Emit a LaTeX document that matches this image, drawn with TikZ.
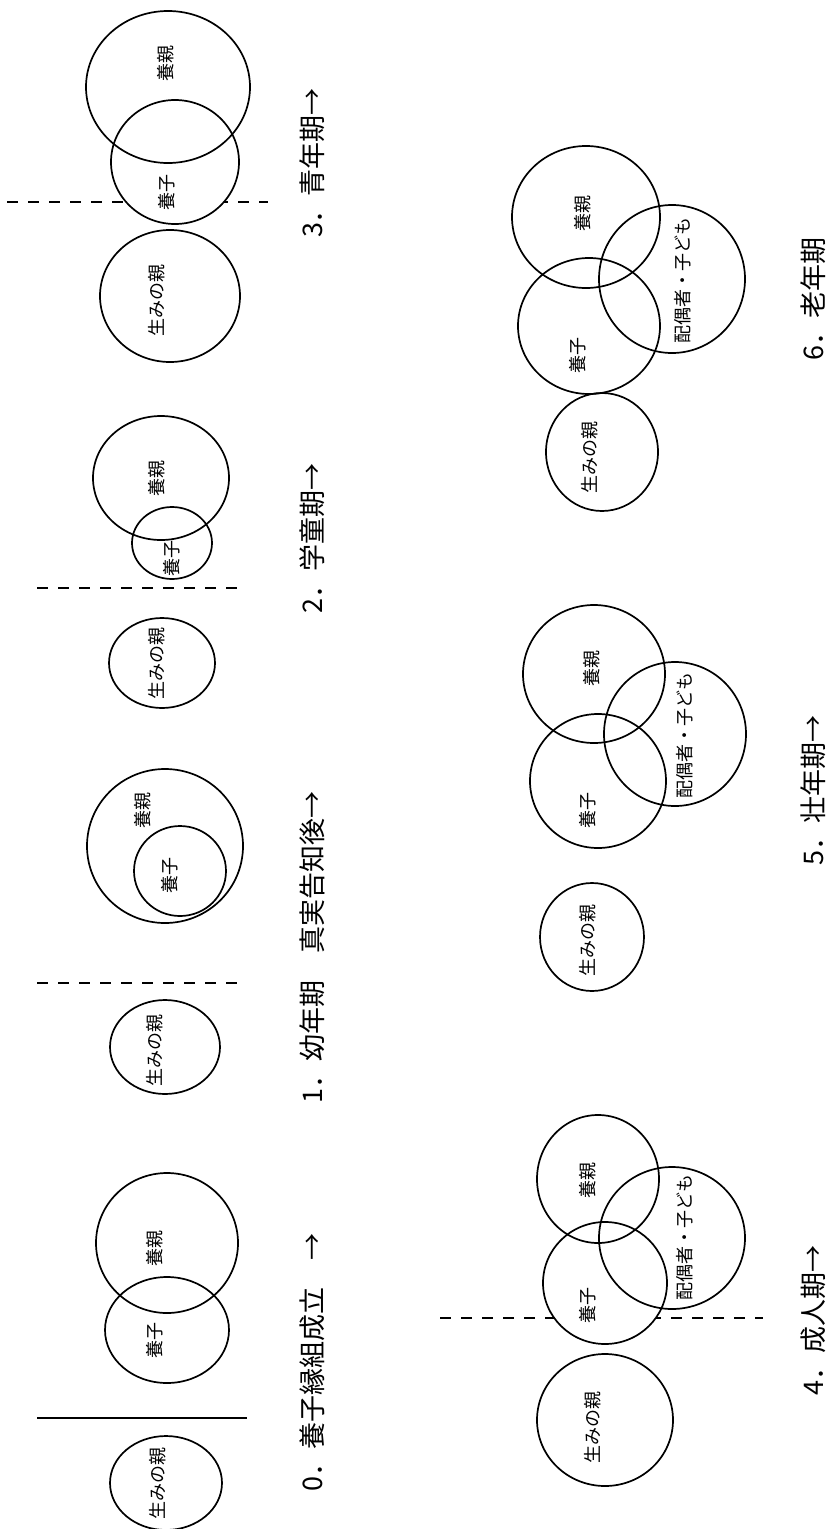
\documentclass[tikz,border=0pt]{standalone}
\usepackage{fontspec}
\setmainfont{Noto Sans CJK JP}
\usetikzlibrary{shapes.geometric}

\begin{document}
\begin{tikzpicture}[
        x=1pt, y=-1pt,
        % circles of the people around the adoptee
        ring/.style={
            ellipse,
            draw=black,
            line width=1.7pt,
            inner sep=0pt
        },
        tag/.style={
            rotate=90,
            inner sep=0pt,
            font=\fontsize{18}{21}\selectfont
        },
        stagelabel/.style={
            rotate=90,
            inner sep=0pt,
            font=\fontsize{27}{30}\selectfont
        },
        divider/.style={
            line width=1.7pt,
            dash pattern=on 11pt off 10pt
        }
    ]
    \useasboundingbox (0,0) rectangle (825,1529);

    % Dividing lines
    \draw [line width=1.7pt] (37,1418) -- (247,1418);
    \draw [divider] (37,983) -- (247,983);
    \draw [divider] (37,588) -- (247,588);
    \draw [divider] (7,202) -- (268,202);
    \draw [divider] (440,1318) -- (763,1318);

    % 0. adoption
    \node (child0) [ring, minimum width=124pt, minimum height=106pt] at (167,1330) {};
    \node (parent0) [ring, minimum width=142pt, minimum height=140pt] at (167,1243) {};
    \node (birth0) [ring, minimum width=112pt, minimum height=94pt] at (166,1483) {};
    \node (tparent0) [tag] at (155,1248) {養親};
    \node (tchild0) [tag] at (155,1340) {養子};
    \node (tbirth0) [tag] at (158,1483) {生みの親};
    \node (label0) [stagelabel] at (312,1362) {0．養子縁組成立　→};

    % 1. early childhood
    \node (parent1) [ring, minimum width=156pt, minimum height=154pt] at (165,846) {};
    \node (child1) [ring, minimum width=92pt, minimum height=90pt] at (180,871) {};
    \node (birth1) [ring, minimum width=110pt, minimum height=94pt] at (165,1047) {};
    \node (tparent1) [tag] at (143,810) {養親};
    \node (tchild1) [tag] at (170,875) {養子};
    \node (tbirth1) [tag] at (155,1050) {生みの親};
    \node (label1) [stagelabel] at (312,947) {1．幼年期　真実告知後→};

    % 2. school age
    \node (parent2) [ring, minimum width=136pt, minimum height=124pt] at (161,478) {};
    \node (child2) [ring, minimum width=80pt, minimum height=72pt] at (172,543) {};
    \node (birth2) [ring, minimum width=106pt, minimum height=90pt] at (162,663) {};
    \node (tparent2) [tag] at (157,478) {養親};
    \node (tchild2) [tag] at (172,558) {養子};
    \node (tbirth2) [tag] at (157,663) {生みの親};
    \node (label2) [stagelabel] at (312,538) {2．学童期→};

    % 3. adolescence
    \node (child3) [ring, fill=white, minimum width=128pt, minimum height=124pt] at (175,162) {};
    \node (parent3) [ring, minimum width=164pt, minimum height=152pt] at (168,87) {};
    \node (birth3) [ring, minimum width=140pt, minimum height=132pt] at (170,296) {};
    \node (tparent3) [tag] at (166,63) {養親};
    \node (tchild3) [tag] at (167,192) {養子};
    \node (tbirth3) [tag] at (157,300) {生みの親};
    \node (label3) [stagelabel] at (312,163) {3．青年期→};

    % 4. adulthood
    \node (child4) [ring, fill=white, minimum width=124pt, minimum height=122pt] at (605,1283) {};
    \node (parent4) [ring, minimum width=122pt, minimum height=128pt] at (598,1179) {};
    \node (spouse4) [ring, minimum width=146pt, minimum height=142pt] at (672,1238) {};
    \node (birth4) [ring, minimum width=136pt, minimum height=132pt] at (605,1420) {};
    \node (tparent4) [tag] at (588,1180) {養親};
    \node (tspouse4) [tag] at (685,1237) {配偶者・子ども};
    \node (tchild4) [tag] at (588,1305) {養子};
    \node (tbirth4) [tag] at (593,1427) {生みの親};
    \node (label4) [stagelabel] at (813,1320) {4．成人期→};

    % 5. middle age
    \node (parent5) [ring, minimum width=142pt, minimum height=138pt] at (594,674) {};
    \node (spouse5) [ring, minimum width=142pt, minimum height=144pt] at (675,734) {};
    \node (child5) [ring, minimum width=136pt, minimum height=134pt] at (598,781) {};
    \node (birth5) [ring, minimum width=104pt, minimum height=108pt] at (592,937) {};
    \node (tparent5) [tag] at (592,668) {養親};
    \node (tspouse5) [tag] at (685,735) {配偶者・子ども};
    \node (tchild5) [tag] at (588,810) {養子};
    \node (tbirth5) [tag] at (588,940) {生みの親};
    \node (label5) [stagelabel] at (813,790) {5．壮年期→};

    % 6. old age
    \node (parent6) [ring, minimum width=148pt, minimum height=142pt] at (586,217) {};
    \node (spouse6) [ring, minimum width=146pt, minimum height=148pt] at (672,279) {};
    \node (child6) [ring, minimum width=142pt, minimum height=136pt] at (589,326) {};
    \node (birth6) [ring, minimum width=112pt, minimum height=118pt] at (602,452) {};
    \node (tparent6) [tag] at (583,213) {養親};
    \node (tspouse6) [tag] at (683,280) {配偶者・子ども};
    \node (tchild6) [tag] at (578,355) {養子};
    \node (tbirth6) [tag] at (590,457) {生みの親};
    \node (label6) [stagelabel] at (813,299) {6．老年期};

    \end{tikzpicture}
\end{document}
